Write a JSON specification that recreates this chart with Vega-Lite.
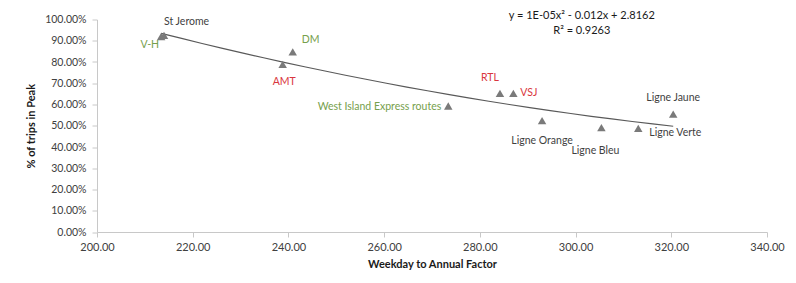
{
  "$schema": "https://vega.github.io/schema/vega-lite/v6.json",
  "autosize": {"type": "none"},
  "padding": {"left": 97, "top": 19.5, "right": 29, "bottom": 51},
  "width": 670,
  "height": 212.5,
  "background": "white",
  "config": {
    "view": {"stroke": null},
    "font": "Lato",
    "axis": {"labelFont": "Lato", "titleFont": "Lato", "labelOverlap": false, "labelFlush": false}
  },
  "datasets": {
    "pts": [
      {"name": "V-H", "factor": 213.4, "peak": 0.92, "group": "green"},
      {"name": "St Jerome", "factor": 214.0, "peak": 0.925, "group": "gray"},
      {"name": "AMT", "factor": 238.8, "peak": 0.789, "group": "red"},
      {"name": "DM", "factor": 240.9, "peak": 0.848, "group": "green"},
      {"name": "West Island Express routes", "factor": 273.4, "peak": 0.593, "group": "green"},
      {"name": "RTL", "factor": 284.2, "peak": 0.652, "group": "red"},
      {"name": "VSJ", "factor": 287.0, "peak": 0.652, "group": "red"},
      {"name": "Ligne Orange", "factor": 293.0, "peak": 0.524, "group": "gray"},
      {"name": "Ligne Bleu", "factor": 305.4, "peak": 0.491, "group": "gray"},
      {"name": "Ligne Verte", "factor": 313.1, "peak": 0.488, "group": "gray"},
      {"name": "Ligne Jaune", "factor": 320.4, "peak": 0.555, "group": "gray"}
    ],
    "eq": [
      {"factor": 301.3, "peak": 1.015, "text": "y = 1E-05x² - 0.012x + 2.8162"},
      {"factor": 301.3, "peak": 0.945, "text": "R² = 0.9263"}
    ]
  },
  "encoding": {
    "x": {
      "field": "factor", "type": "quantitative",
      "scale": {"domain": [200, 340], "nice": false, "zero": false},
      "axis": {
        "title": "Weekday to Annual Factor", "values": [200, 220, 240, 260, 280, 300, 320, 340],
        "format": ".2f", "grid": false, "domainColor": "#c8c8c8", "tickColor": "#c8c8c8", "tickSize": 5,
        "labelOverlap": false, "labelFlush": false,
        "labelFontSize": 11, "labelColor": "#404040", "labelPadding": 4,
        "titleFontSize": 11, "titleFontWeight": "bold", "titleColor": "#1a1a1a", "titlePadding": 6
      }
    },
    "y": {
      "field": "peak", "type": "quantitative",
      "scale": {"domain": [0, 1], "nice": false},
      "axis": {
        "title": "% of trips in Peak",
        "tickCount": 10, "tickMinStep": 0.1,
        "format": ".2%", "grid": false, "domainColor": "#c8c8c8", "tickColor": "#c8c8c8", "tickSize": 5,
        "labelOverlap": false, "labelFlush": false, "labelBound": false,
        "labelFontSize": 10.5, "labelColor": "#404040", "labelPadding": 6,
        "titleFontSize": 11, "titleFontWeight": "bold", "titleColor": "#1a1a1a", "titlePadding": 8
      }
    }
  },
  "layer": [
    {
      "data": {"name": "pts"},
      "transform": [{"regression": "peak", "on": "factor", "method": "poly", "order": 2}],
      "mark": {"type": "line", "color": "#595959", "strokeWidth": 1.2},
      "encoding": {}
    },
    {
      "data": {"name": "pts"},
      "mark": {"type": "point", "shape": "triangle-up", "filled": true, "color": "#7a7a7a", "size": 72, "opacity": 1},
      "encoding": {}
    },
    {
      "data": {"name": "eq"},
      "mark": {"type": "text", "fontSize": 11, "color": "#1a1a1a", "align": "center", "baseline": "middle", "clip": false},
      "encoding": {"text": {"field": "text"}}
    },
    {
      "data": {"name": "pts"},
      "transform": [{"filter": "datum.name == 'St Jerome'"}],
      "mark": {"type": "text", "fontSize": 10.5, "align": "left", "baseline": "middle", "dx": 0, "dy": -13},
      "encoding": {"text": {"field": "name"}, "color": {"field": "group", "type": "nominal", "scale": {"domain": ["gray", "green", "red"], "range": ["#3f3f3f", "#76a04c", "#d9363e"]}, "legend": null}}
    },
    {
      "data": {"name": "pts"},
      "transform": [{"filter": "datum.name == 'V-H'"}],
      "mark": {"type": "text", "fontSize": 10.5, "align": "right", "baseline": "middle", "dx": -2, "dy": 8},
      "encoding": {"text": {"field": "name"}, "color": {"field": "group", "type": "nominal", "scale": {"domain": ["gray", "green", "red"], "range": ["#3f3f3f", "#76a04c", "#d9363e"]}, "legend": null}}
    },
    {
      "data": {"name": "pts"},
      "transform": [{"filter": "datum.name == 'DM'"}],
      "mark": {"type": "text", "fontSize": 10.5, "align": "left", "baseline": "middle", "dx": 9, "dy": -12},
      "encoding": {"text": {"field": "name"}, "color": {"field": "group", "type": "nominal", "scale": {"domain": ["gray", "green", "red"], "range": ["#3f3f3f", "#76a04c", "#d9363e"]}, "legend": null}}
    },
    {
      "data": {"name": "pts"},
      "transform": [{"filter": "datum.name == 'AMT'"}],
      "mark": {"type": "text", "fontSize": 10.5, "align": "center", "baseline": "middle", "dx": 1.5, "dy": 18},
      "encoding": {"text": {"field": "name"}, "color": {"field": "group", "type": "nominal", "scale": {"domain": ["gray", "green", "red"], "range": ["#3f3f3f", "#76a04c", "#d9363e"]}, "legend": null}}
    },
    {
      "data": {"name": "pts"},
      "transform": [{"filter": "datum.name == 'West Island Express routes'"}],
      "mark": {"type": "text", "fontSize": 10.5, "align": "right", "baseline": "middle", "dx": -7, "dy": 1},
      "encoding": {"text": {"field": "name"}, "color": {"field": "group", "type": "nominal", "scale": {"domain": ["gray", "green", "red"], "range": ["#3f3f3f", "#76a04c", "#d9363e"]}, "legend": null}}
    },
    {
      "data": {"name": "pts"},
      "transform": [{"filter": "datum.name == 'RTL'"}],
      "mark": {"type": "text", "fontSize": 10.5, "align": "center", "baseline": "middle", "dx": -10, "dy": -15},
      "encoding": {"text": {"field": "name"}, "color": {"field": "group", "type": "nominal", "scale": {"domain": ["gray", "green", "red"], "range": ["#3f3f3f", "#76a04c", "#d9363e"]}, "legend": null}}
    },
    {
      "data": {"name": "pts"},
      "transform": [{"filter": "datum.name == 'VSJ'"}],
      "mark": {"type": "text", "fontSize": 10.5, "align": "left", "baseline": "middle", "dx": 7, "dy": 0},
      "encoding": {"text": {"field": "name"}, "color": {"field": "group", "type": "nominal", "scale": {"domain": ["gray", "green", "red"], "range": ["#3f3f3f", "#76a04c", "#d9363e"]}, "legend": null}}
    },
    {
      "data": {"name": "pts"},
      "transform": [{"filter": "datum.name == 'Ligne Orange'"}],
      "mark": {"type": "text", "fontSize": 10.5, "align": "center", "baseline": "middle", "dx": 0, "dy": 20},
      "encoding": {"text": {"field": "name"}, "color": {"field": "group", "type": "nominal", "scale": {"domain": ["gray", "green", "red"], "range": ["#3f3f3f", "#76a04c", "#d9363e"]}, "legend": null}}
    },
    {
      "data": {"name": "pts"},
      "transform": [{"filter": "datum.name == 'Ligne Bleu'"}],
      "mark": {"type": "text", "fontSize": 10.5, "align": "center", "baseline": "middle", "dx": -6, "dy": 23},
      "encoding": {"text": {"field": "name"}, "color": {"field": "group", "type": "nominal", "scale": {"domain": ["gray", "green", "red"], "range": ["#3f3f3f", "#76a04c", "#d9363e"]}, "legend": null}}
    },
    {
      "data": {"name": "pts"},
      "transform": [{"filter": "datum.name == 'Ligne Verte'"}],
      "mark": {"type": "text", "fontSize": 10.5, "align": "left", "baseline": "middle", "dx": 11, "dy": 5},
      "encoding": {"text": {"field": "name"}, "color": {"field": "group", "type": "nominal", "scale": {"domain": ["gray", "green", "red"], "range": ["#3f3f3f", "#76a04c", "#d9363e"]}, "legend": null}}
    },
    {
      "data": {"name": "pts"},
      "transform": [{"filter": "datum.name == 'Ligne Jaune'"}],
      "mark": {"type": "text", "fontSize": 10.5, "align": "center", "baseline": "middle", "dx": 0, "dy": -16},
      "encoding": {"text": {"field": "name"}, "color": {"field": "group", "type": "nominal", "scale": {"domain": ["gray", "green", "red"], "range": ["#3f3f3f", "#76a04c", "#d9363e"]}, "legend": null}}
    }
  ]
}
